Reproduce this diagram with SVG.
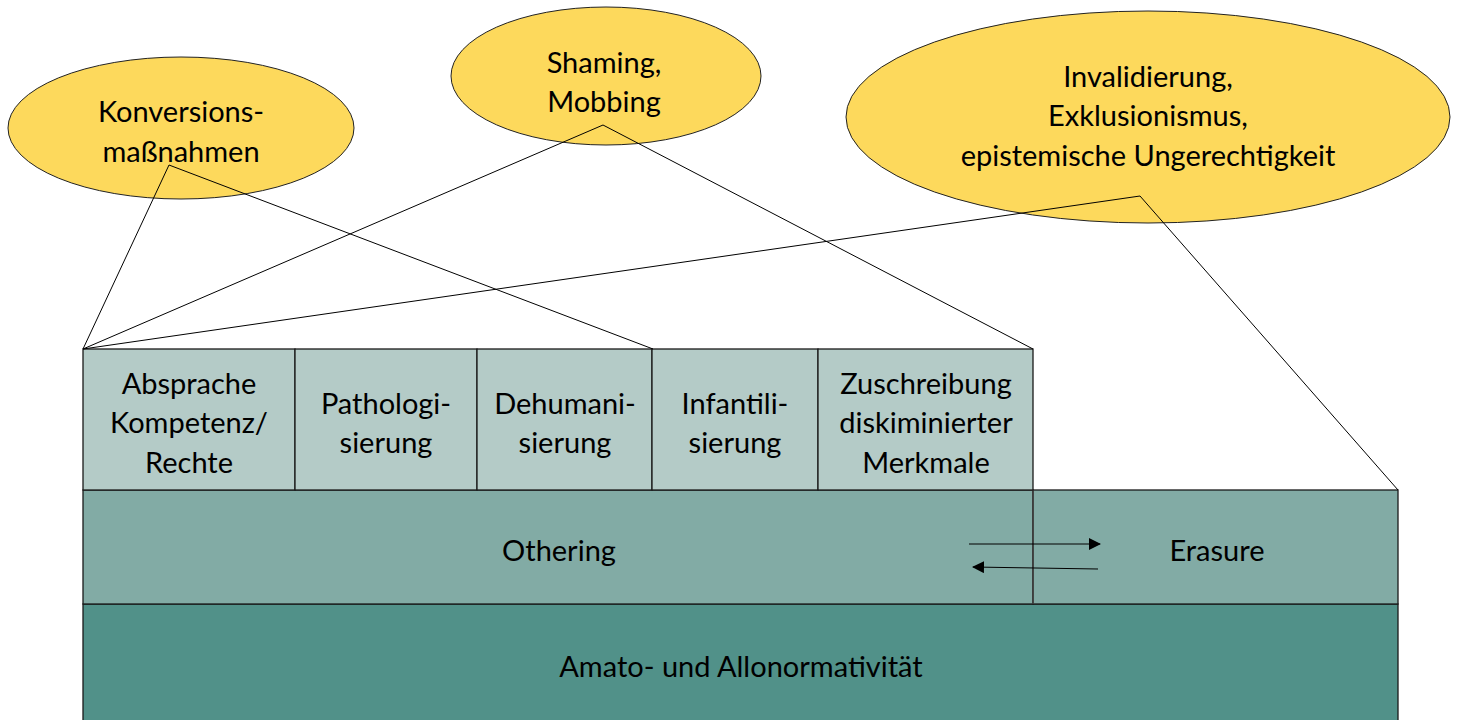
<svg xmlns="http://www.w3.org/2000/svg" width="1461" height="720" viewBox="0 0 1461 720">
<defs>
<style>
text{font-family:Lato,"Open Sans","Liberation Sans",sans-serif;font-size:29px;fill:#000;text-anchor:middle;dominant-baseline:central}
.ell{fill:#FDD95C;stroke:#222;stroke-width:1}
.cell{fill:#B4CBC7;stroke:#1a1a1a;stroke-width:1.3}
.mid{fill:#82ABA5;stroke:#1a1a1a;stroke-width:1.3}
.base{fill:#519189;stroke:#1a1a1a;stroke-width:1.3}
.con{stroke:#000;stroke-width:1;fill:none}
</style>
<marker id="ah" markerWidth="12" markerHeight="12" refX="11" refY="6" orient="auto" markerUnits="userSpaceOnUse">
<path d="M0,0 L12,6 L0,12 Z" fill="#000"/>
</marker>
</defs>
<rect width="1461" height="720" fill="#fff"/>
<g id="base">
<rect class="base" x="83" y="604" width="1315" height="130"/>
<text x="741" y="665">Amato- und Allonormativität</text>
</g>
<g id="othering">
<rect class="mid" x="83" y="490" width="950" height="114"/>
<text x="559" y="549">Othering</text>
</g>
<g id="erasure">
<rect class="mid" x="1033" y="490" width="365" height="114"/>
<text x="1217" y="549">Erasure</text>
</g>
<line x1="1033" y1="490" x2="1033" y2="604" stroke="#444" stroke-width="1.5"/>
<g id="c1">
<rect class="cell" x="83" y="349" width="212" height="141"/>
<text x="189" y="382">Absprache</text>
<text x="189" y="421">Kompetenz/</text>
<text x="189" y="461">Rechte</text>
</g>
<g id="c2">
<rect class="cell" x="295" y="349" width="182" height="141"/>
<text x="386" y="402">Pathologi-</text>
<text x="386" y="441">sierung</text>
</g>
<g id="c3">
<rect class="cell" x="477" y="349" width="175" height="141"/>
<text x="565" y="402">Dehumani-</text>
<text x="565" y="441">sierung</text>
</g>
<g id="c4">
<rect class="cell" x="652" y="349" width="166" height="141"/>
<text x="735" y="402">Infantili-</text>
<text x="735" y="441">sierung</text>
</g>
<g id="c5">
<rect class="cell" x="818" y="349" width="215" height="141"/>
<text x="926" y="382">Zuschreibung</text>
<text x="926" y="421">diskiminierter</text>
<text x="926" y="461">Merkmale</text>
</g>
<g id="e1">
<ellipse class="ell" cx="181" cy="128" rx="173" ry="71"/>
<text x="181" y="110">Konversions-</text>
<text x="181" y="150">maßnahmen</text>
</g>
<g id="e2">
<ellipse class="ell" cx="606" cy="76" rx="155" ry="69"/>
<text x="604" y="61">Shaming,</text>
<text x="604" y="100">Mobbing</text>
</g>
<g id="e3">
<ellipse class="ell" cx="1148" cy="117" rx="302" ry="106"/>
<text x="1148" y="75">Invalidierung,</text>
<text x="1148" y="114">Exklusionismus,</text>
<text x="1148" y="154">epistemische Ungerechtigkeit</text>
</g>
<g id="connectors">
<polyline class="con" points="83,349 169,165 653,349"/>
<polyline class="con" points="83,349 603,125 1033,349"/>
<polyline class="con" points="83,349 1140,196 1398,490"/>
<line class="con" x1="969" y1="544" x2="1100" y2="544" marker-end="url(#ah)"/>
<line class="con" x1="1098" y1="569" x2="973" y2="567" marker-end="url(#ah)"/>
</g>
</svg>
